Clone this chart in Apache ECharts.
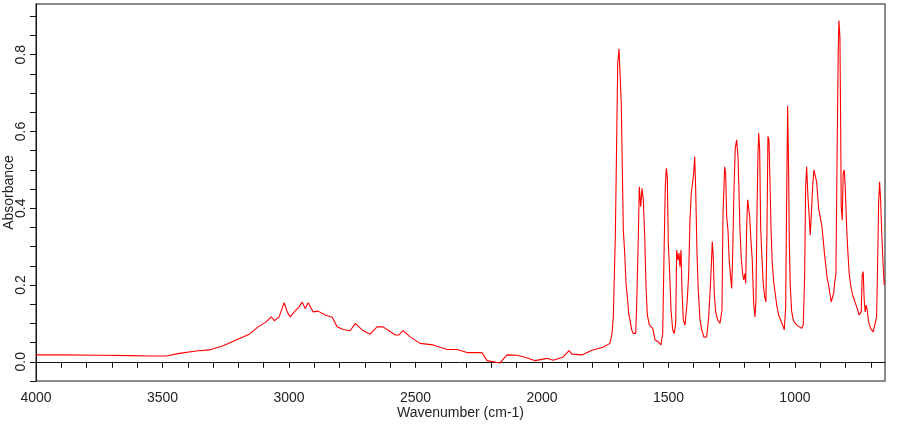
<!DOCTYPE html>
<html>
<head>
<meta charset="utf-8">
<title>IR spectrum</title>
<script src="https://cdn.jsdelivr.net/npm/echarts@6/dist/echarts.min.js"></script>
<style>
  html, body { margin: 0; padding: 0; background: #fff; }
  #chart { width: 910px; height: 425px; }
</style>
</head>
<body>
<div id="chart"></div>
<script>
const wavenumbers = [
  4000, 3904, 3746, 3627, 3548, 3485, 3434, 3367, 3315, 3260, 3209, 3157, 3122, 3090, 3070, 3058,
  3039, 3019, 3007, 2995, 2979, 2960, 2948, 2936, 2924, 2904, 2885, 2857, 2829, 2810, 2786, 2758,
  2738, 2711, 2679, 2652, 2628, 2580, 2565, 2549, 2521, 2482, 2430, 2375, 2335, 2296, 2237, 2217,
  2166, 2138, 2098, 2067, 2027, 1980, 1956, 1917, 1893, 1881, 1842, 1802, 1759, 1731, 1723, 1718,
  1714, 1710, 1704.5, 1700.5, 1695.4, 1691.4, 1686.3, 1682.3, 1678.4, 1672.9, 1667.7, 1662.6,
  1657.1, 1651.9, 1645.2, 1638.9, 1629.4, 1625.4, 1619.1, 1615.2, 1609.6, 1604.5, 1599.4, 1593.8,
  1588.7, 1583.6, 1575.7, 1570.1, 1562.2, 1553.1, 1540.1, 1529.4, 1522.7, 1517.6, 1512.5, 1508.5,
  1504.5, 1500.6, 1495.1, 1489.9, 1483.2, 1476.9, 1471.4, 1467.4, 1462.3, 1458.3, 1454.4, 1450.4,
  1446.5, 1441.3, 1434.6, 1430.7, 1425.5, 1420.0, 1414.9, 1409.7, 1404.2, 1400.2, 1396.3, 1392.3,
  1387.2, 1382.1, 1375.4, 1368.6, 1359.5, 1348.9, 1341.0, 1335.8, 1330.7, 1326.8, 1322.8, 1318.9,
  1313.3, 1305.4, 1296.3, 1288.4, 1284.5, 1280.5, 1277.8, 1273.8, 1269.9, 1264.7, 1259.6, 1254.1,
  1250.1, 1246.2, 1241.0, 1235.9, 1230.4, 1225.2, 1221.3, 1217.3, 1212.2, 1206.6, 1202.7, 1197.6,
  1194.8, 1190.8, 1186.9, 1182.9, 1179.0, 1173.9, 1168.7, 1163.2, 1158.0, 1154.1, 1150.1, 1146.2,
  1143.4, 1139.5, 1135.5, 1130.4, 1125.3, 1119.7, 1114.6, 1110.6, 1106.7, 1102.7, 1098.8, 1094.8,
  1089.7, 1084.2, 1077.8, 1072.3, 1064.4, 1056.5, 1048.6, 1042.3, 1036.8, 1032.8, 1028.9, 1024.9,
  1022.5, 1018.6, 1013.0, 1006.7, 998.8, 987.0, 973.5, 967.2, 961.7, 957.7, 953.8, 948.6,
  943.5, 939.6, 935.6, 930.1, 924.9, 919.8, 914.3, 906.4, 898.5, 893.3, 888.2, 882.7,
  877.5, 872.4, 866.9, 861.7, 856.6, 851.1, 847.1, 843.2, 838.0, 832.9, 828.9, 826.2,
  822.2, 819.4, 817.1, 813.1, 809.2, 805.2, 801.3, 795.7, 790.6, 785.5, 779.9, 772.0,
  762.9, 753.9, 746.0, 738.1, 734.1, 730.2, 726.2, 722.3, 718.3, 714.4, 708.8, 700.9,
  690.6, 682.7, 677.2, 673.3, 669.3, 665.4, 661.4, 656.3, 651.1, 647.2
]
const absorbance = [
  0.018, 0.018, 0.017, 0.016, 0.015, 0.015, 0.022, 0.028, 0.031, 0.042, 0.057, 0.072, 0.091, 0.104, 0.117, 0.107,
  0.117, 0.154, 0.130, 0.117, 0.130, 0.143, 0.156, 0.139, 0.154, 0.130, 0.132, 0.122, 0.116, 0.091, 0.084, 0.081,
  0.100, 0.083, 0.072, 0.091, 0.091, 0.070, 0.070, 0.081, 0.065, 0.048, 0.044, 0.032, 0.032, 0.024, 0.024, 0.003,
  -0.003, 0.018, 0.017, 0.012, 0.003, 0.009, 0.004, 0.012, 0.029, 0.020, 0.018, 0.030, 0.038, 0.048, 0.074, 0.117,
  0.222, 0.326, 0.587, 0.778, 0.815, 0.752, 0.669, 0.500, 0.343, 0.283, 0.204, 0.170,
  0.126, 0.109, 0.083, 0.074, 0.074, 0.152, 0.326, 0.456, 0.404, 0.452, 0.422, 0.326,
  0.196, 0.122, 0.096, 0.100, 0.087, 0.057, 0.052, 0.044, 0.074, 0.274, 0.456, 0.504,
  0.482, 0.309, 0.230, 0.135, 0.083, 0.074, 0.100, 0.291, 0.265, 0.283, 0.248, 0.291,
  0.187, 0.109, 0.096, 0.091, 0.161, 0.230, 0.369, 0.439, 0.469, 0.491, 0.535, 0.448,
  0.283, 0.187, 0.111, 0.083, 0.064, 0.065, 0.117, 0.178, 0.248, 0.313, 0.274, 0.178,
  0.130, 0.109, 0.100, 0.135, 0.383, 0.456, 0.508, 0.491, 0.378, 0.343, 0.261, 0.222,
  0.191, 0.278, 0.448, 0.556, 0.578, 0.535, 0.448, 0.343, 0.270, 0.230, 0.213, 0.230,
  0.204, 0.352, 0.422, 0.400, 0.378, 0.317, 0.265, 0.152, 0.117, 0.161, 0.387, 0.535,
  0.596, 0.556, 0.352, 0.270, 0.204, 0.170, 0.156, 0.343, 0.587, 0.578, 0.474, 0.352,
  0.257, 0.209, 0.178, 0.148, 0.122, 0.109, 0.096, 0.083, 0.139, 0.422, 0.667, 0.495,
  0.317, 0.200, 0.132, 0.109, 0.100, 0.093, 0.087, 0.096, 0.222, 0.456, 0.508, 0.430,
  0.378, 0.330, 0.378, 0.456, 0.500, 0.504, 0.469, 0.400, 0.396, 0.352, 0.317, 0.278,
  0.248, 0.217, 0.200, 0.178, 0.156, 0.152, 0.178, 0.204, 0.230, 0.569, 0.804, 0.889,
  0.847, 0.630, 0.404, 0.369, 0.491, 0.500, 0.456, 0.352, 0.283, 0.230, 0.200, 0.174,
  0.156, 0.139, 0.122, 0.130, 0.226, 0.235, 0.161, 0.130, 0.148, 0.135, 0.104, 0.087,
  0.078, 0.083, 0.117, 0.248, 0.413, 0.469, 0.422, 0.326, 0.248, 0.200
]

// ticks every 100 cm-1, labels every 500
const xTickValues = [700, 800, 900, 1000, 1100, 1200, 1300, 1400, 1500, 1600, 1700, 1800, 1900, 2000,
  2100, 2200, 2300, 2400, 2500, 2600, 2700, 2800, 2900, 3000, 3100, 3200, 3300, 3400, 3500, 3600,
  3700, 3800, 3900, 4000]
const xLabelValues = [1000, 1500, 2000, 2500, 3000, 3500, 4000]
const yTickValues = [-0.05, 0, 0.05, 0.1, 0.15, 0.2, 0.25, 0.3, 0.35, 0.4, 0.45, 0.5, 0.55, 0.6,
  0.65, 0.7, 0.75, 0.8, 0.85, 0.9]
const yLabelValues = [0, 0.2, 0.4, 0.6, 0.8]

const chart = echarts.init(document.getElementById('chart'))
const font = 'Liberation Sans, Arial, sans-serif'

const option = {
  animation: false,
  grid: {
    left: 36,
    right: 25,
    top: 4,
    bottom: 44,
    outerBoundsMode: 'none',
    containLabel: false,
    show: true,
    borderColor: '#666',
    borderWidth: 1.5
  },
  xAxis: {
    type: 'value',
    inverse: true,
    min: 644,
    max: 4000,
    name: 'Wavenumber (cm-1)',
    nameLocation: 'middle',
    nameGap: 25,
    nameMoveOverlap: false,
    nameTextStyle: { color: '#222', fontFamily: font, fontSize: 14 },
    splitLine: { show: false },
    axisLine: { lineStyle: { color: '#111', width: 1 } },
    axisTick: { length: 6, lineStyle: { color: '#111' }, customValues: xTickValues },
    axisLabel: {
      color: '#222', fontFamily: font, fontSize: 14, margin: 10,
      customValues: xLabelValues,
      formatter: v => String(v)
    }
  },
  yAxis: {
    type: 'value',
    min: -0.05,
    max: 0.932,
    name: 'Absorbance',
    nameLocation: 'middle',
    nameGap: 20,
    nameMoveOverlap: false,
    nameTextStyle: { color: '#222', fontFamily: font, fontSize: 14 },
    splitLine: { show: false },
    axisLine: { show: true, lineStyle: { color: '#111', width: 1 } },
    axisTick: { show: true, length: 6, lineStyle: { color: '#111' }, customValues: yTickValues },
    axisLabel: {
      color: '#222', fontFamily: font, fontSize: 14, margin: 8, rotate: 90,
      customValues: yLabelValues,
      formatter: v => v.toFixed(1)
    }
  },
  series: [{
    type: 'line',
    data: wavenumbers.map((w, i) => [w, absorbance[i]]),
    showSymbol: false,
    symbol: 'none',
    lineStyle: { color: '#ff0000', width: 1.1 },
    clip: true
  }]
}
chart.setOption(option)
</script>
</body>
</html>
